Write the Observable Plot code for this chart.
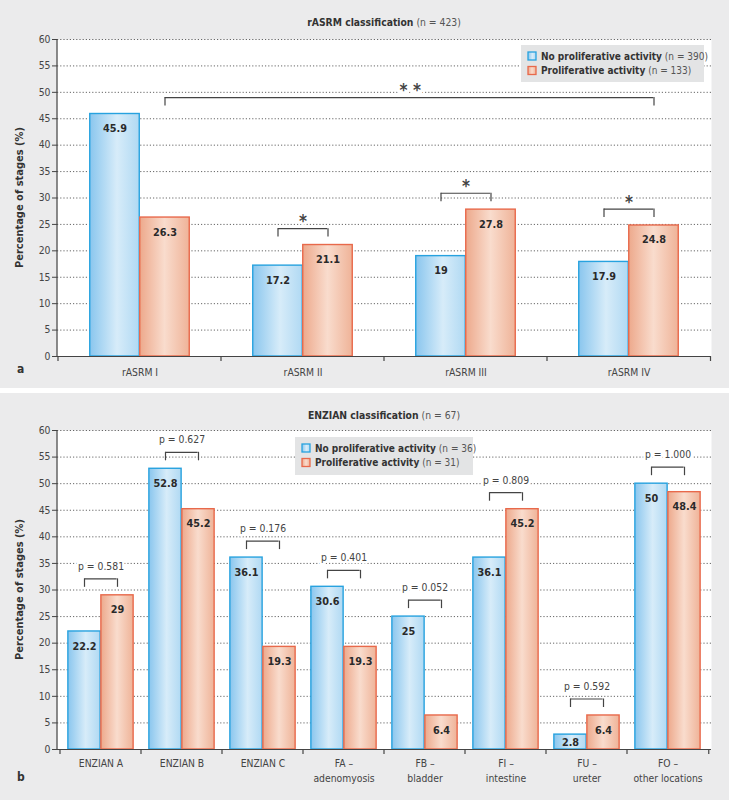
<!DOCTYPE html>
<html>
<head>
<meta charset="utf-8">
<script src="https://cdn.jsdelivr.net/npm/d3@7"></script>
<script src="https://cdn.jsdelivr.net/npm/@observablehq/plot@0.6"></script>
<style>
  body { margin: 0; background: #ffffff; }
  #chart { width: 729px; }
  #chart svg { display: block; }
  .gap { height: 5px; background: #ffffff; }
</style>
</head>
<body>
<div id="chart"></div>
<script>
// ---------- data ----------
const yTicks = [0, 5, 10, 15, 20, 25, 30, 35, 40, 45, 50, 55, 60];
const yLabel = "Percentage of stages (%)";

const asrmTitle = "rASRM classification";
const asrmN = "(n = 423)";
const asrmCategories = ["rASRM I", "rASRM II", "rASRM III", "rASRM IV"];
const asrmNoProlif = [45.9, 17.2, 19, 17.9];
const asrmProlif = [26.3, 21.1, 27.8, 24.8];
const asrmMarks = ["", "*", "*", "*"];
const asrmOverall = [{from: "rASRM I", to: "rASRM IV", label: "* *"}];
const asrmLegend = [["No proliferative activity", "(n = 390)"], ["Proliferative activity", "(n = 133)"]];

const enzTitle = "ENZIAN classification";
const enzN = "(n = 67)";
const enzCategories = ["ENZIAN A", "ENZIAN B", "ENZIAN C", "FA –\nadenomyosis", "FB –\nbladder", "FI –\nintestine", "FU –\nureter", "FO –\nother locations"];
const enzNoProlif = [22.2, 52.8, 36.1, 30.6, 25, 36.1, 2.8, 50];
const enzProlif = [29, 45.2, 19.3, 19.3, 6.4, 45.2, 6.4, 48.4];
const enzMarks = ["p = 0.581", "p = 0.627", "p = 0.176", "p = 0.401", "p = 0.052", "p = 0.809", "p = 0.592", "p = 1.000"];
const enzLegend = [["No proliferative activity", "(n = 36)"], ["Proliferative activity", "(n = 31)"]];

// ---------- style ----------
const FONT = '"DejaVu Sans Condensed", "Liberation Sans Narrow", "Roboto Condensed", sans-serif';
const BLUE = "#27a2df", ORANGE = "#e8694b";

function panel(cfg) {
  const W = 729, ML = 57, MR = 18;
  const {id, cats, no, pro, marks, overall, title, titleN, legend, letter, letterY,
         H, MT, MB, barW, legX, legW, legTop, legH, annSize, annWeight, annOffset, tickPad} = cfg;
  const bw = (W - ML - MR) / cats.length;
  const rows = cats.map((c, i) => ({cat: c, no: no[i], pro: pro[i], lab: marks[i], top: Math.max(no[i], pro[i])}));
  const annRows = rows.filter(r => r.lab);
  const ovRows = (overall || []).map(o => {
    const i0 = cats.indexOf(o.from), i1 = cats.indexOf(o.to);
    const top = d3.max(rows.slice(i0, i1 + 1), r => r.top);
    return {...o, span: i1 - i0, top};
  });

  const defs = () => {
    const d = d3.create("svg:defs");
    const mk = (gid, stops) => {
      const lg = d.append("linearGradient").attr("id", gid).attr("x1", 0).attr("x2", 1).attr("y1", 0).attr("y2", 0);
      stops.forEach(([o, c]) => lg.append("stop").attr("offset", o).attr("stop-color", c));
    };
    mk(id + "b", [[0, "#8ac6ee"], [0.55, "#d7ecf9"], [1, "#b0d9f3"]]);
    mk(id + "o", [[0, "#eda98c"], [0.5, "#f9dccd"], [1, "#efb398"]]);
    return d.node();
  };

  const decor = (index, scales, values, dims) => {
    const {width, height, marginTop, marginBottom, marginLeft, marginRight} = dims;
    const g = d3.create("svg:g").attr("font-family", FONT).attr("text-anchor", "start");
    const y0 = height - marginBottom;
    g.append("line").attr("x1", marginLeft).attr("x2", marginLeft)
      .attr("y1", marginTop).attr("y2", y0).attr("stroke", "#444").attr("stroke-width", 1.2);
    const edges = cats.map(c => scales.x(c)).concat([scales.x(cats[cats.length - 1]) + bw]);
    edges.forEach(e => g.append("line").attr("x1", e).attr("x2", e).attr("y1", y0).attr("y2", y0 + 5)
      .attr("stroke", "#444").attr("stroke-width", 1.2));
    const t = g.append("text").attr("x", (marginLeft + width - marginRight) / 2).attr("y", 23)
      .attr("text-anchor", "middle").attr("dominant-baseline", "middle").attr("font-size", 10.3).attr("fill", "#333");
    t.append("tspan").attr("font-weight", "bold").text(title);
    t.append("tspan").attr("fill", "#555").text(" " + titleN);
    g.append("text").attr("transform", `translate(20,${(marginTop + y0) / 2}) rotate(-90)`)
      .attr("text-anchor", "middle").attr("dominant-baseline", "middle")
      .attr("font-size", 11).attr("font-weight", "bold").attr("fill", "#333").text(yLabel);
    g.append("text").attr("x", 17).attr("y", letterY).attr("dominant-baseline", "middle")
      .attr("font-size", 12).attr("font-weight", "bold").attr("fill", "#333").text(letter);
    const ly = marginTop + legTop;
    g.append("rect").attr("x", legX).attr("y", ly).attr("width", legW).attr("height", legH).attr("fill", "#e3e4e5");
    legend.forEach(([name, n], i) => {
      const cy = ly + 11.5 + i * 14.5;
      g.append("rect").attr("x", legX + 7).attr("y", cy - 4.5).attr("width", 8).attr("height", 8)
        .attr("fill", i === 0 ? `url(#${id}b)` : `url(#${id}o)`).attr("stroke", i === 0 ? BLUE : ORANGE).attr("stroke-width", 1.3);
      const tx = g.append("text").attr("x", legX + 20).attr("y", cy).attr("dominant-baseline", "middle")
        .attr("text-anchor", "start").attr("font-size", 10).attr("fill", "#333");
      tx.append("tspan").attr("font-weight", "bold").text(name);
      tx.append("tspan").attr("fill", "#555").text(" " + n);
    });
    return g.node();
  };

  const legOff = 1.6, brOff = 3.1;
  return Plot.plot({
    width: W, height: H, marginLeft: ML, marginRight: MR, marginTop: MT, marginBottom: MB,
    style: {background: "#ebebec", fontFamily: FONT, overflow: "visible"},
    x: {domain: cats, padding: 0, axis: null},
    y: {domain: [0, 60], axis: null},
    marks: [
      defs,
      Plot.frame({fill: "white", stroke: "none"}),
      Plot.gridY(yTicks.filter(t => t > 0), {stroke: "#666", strokeOpacity: 1, strokeDasharray: "1.2,2", strokeWidth: 1}),
      Plot.barY(rows, {x: "cat", y: "no", insetLeft: bw / 2 - barW, insetRight: bw / 2,
        fill: `url(#${id}b)`, stroke: BLUE, strokeWidth: 1.4}),
      Plot.barY(rows, {x: "cat", y: "pro", insetLeft: bw / 2, insetRight: bw / 2 - barW,
        fill: `url(#${id}o)`, stroke: ORANGE, strokeWidth: 1.4}),
      Plot.text(rows, {x: "cat", y: d => Math.max(d.no - 2.75, d.no / 2), dx: -barW / 2, text: d => String(d.no),
        fontWeight: "bold", fontSize: 10.8, fill: "#2a2a2a"}),
      Plot.text(rows, {x: "cat", y: d => Math.max(d.pro - 2.75, d.pro / 2), dx: barW / 2, text: d => String(d.pro),
        fontWeight: "bold", fontSize: 10.8, fill: "#2a2a2a"}),
      Plot.ruleY(annRows, {x1: "cat", x2: "cat", y: d => d.top + brOff, insetLeft: bw / 2 - barW / 2, insetRight: bw / 2 - barW / 2,
        stroke: "#444", strokeWidth: 1.2}),
      Plot.ruleX(annRows, {x: "cat", y1: d => d.top + brOff, y2: d => d.top + brOff - legOff, dx: -barW / 2, stroke: "#444", strokeWidth: 1.2}),
      Plot.ruleX(annRows, {x: "cat", y1: d => d.top + brOff, y2: d => d.top + brOff - legOff, dx: barW / 2, stroke: "#444", strokeWidth: 1.2}),
      Plot.text(annRows, {x: "cat", y: d => d.top + annOffset, text: "lab", fontSize: annSize, fontWeight: annWeight,
        fill: "#444", stroke: "white", strokeWidth: 5, paintOrder: "stroke"}),
      Plot.ruleY(ovRows, {x1: "from", x2: "to", y: d => d.top + brOff, insetLeft: bw / 2 + barW / 2, insetRight: bw / 2 - barW / 2,
        stroke: "#444", strokeWidth: 1.2}),
      Plot.ruleX(ovRows, {x: "from", y1: d => d.top + brOff, y2: d => d.top + brOff - legOff, dx: barW / 2, stroke: "#444", strokeWidth: 1.2}),
      Plot.ruleX(ovRows, {x: "to", y1: d => d.top + brOff, y2: d => d.top + brOff - legOff, dx: barW / 2, stroke: "#444", strokeWidth: 1.2}),
      Plot.text(ovRows, {x: "from", y: d => d.top + annOffset, dx: (ovRows.length ? ovRows[0].span : 0) * bw / 2 + barW / 2,
        text: "label", fontSize: annSize, fontWeight: annWeight, fill: "#444", stroke: "white", strokeWidth: 7, paintOrder: "stroke"}),
      Plot.ruleY([0], {stroke: "#444", strokeWidth: 1.2}),
      Plot.axisY({ticks: yTicks, tickSize: 5, tickPadding: 2, fontSize: 10.3, color: "#444", label: null}),
      Plot.axisX({tickSize: 0, tickPadding: tickPad, fontSize: 10.3, color: "#444", label: null, lineHeight: 1.45}),
      decor
    ]
  });
}

const chart = document.getElementById("chart");
chart.appendChild(panel({
  id: "ga", cats: asrmCategories, no: asrmNoProlif, pro: asrmProlif, marks: asrmMarks, overall: asrmOverall,
  title: asrmTitle, titleN: asrmN, legend: asrmLegend, letter: "a", letterY: 369,
  H: 388, MT: 39, MB: 32, barW: 50, legX: 521, legW: 183, legTop: 6, legH: 37,
  annSize: 17, annWeight: "bold", annOffset: 4.4, tickPad: 9
}));
const gap = document.createElement("div"); gap.className = "gap"; chart.appendChild(gap);
chart.appendChild(panel({
  id: "gb", cats: enzCategories, no: enzNoProlif, pro: enzProlif, marks: enzMarks, overall: [],
  title: enzTitle, titleN: enzN, legend: enzLegend, letter: "b", letterY: 384,
  H: 407, MT: 37, MB: 51, barW: 33, legX: 295, legW: 178, legTop: 7, legH: 38,
  annSize: 10.3, annWeight: "normal", annOffset: 5.4, tickPad: 7
}));
</script>
</body>
</html>
